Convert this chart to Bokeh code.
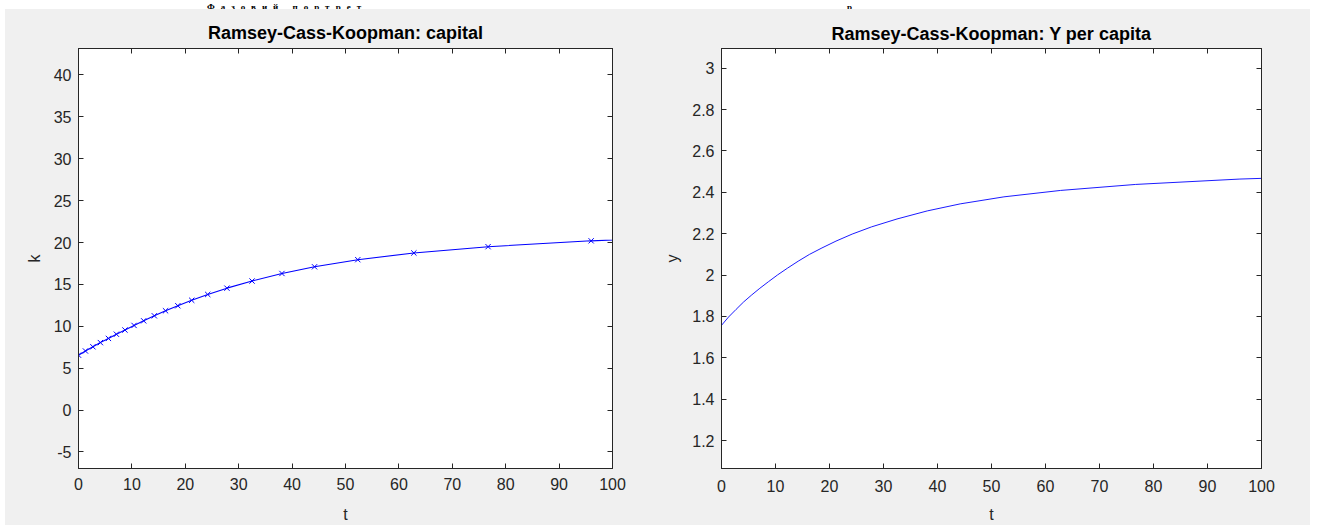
from bokeh.plotting import figure
from bokeh.layouts import column, row
from bokeh.models import LinearAxis, FixedTicker, CustomJSTickFormatter, Range1d, Spacer, ColumnDataSource, Div
from bokeh.embed import file_html
from bokeh.resources import INLINE

# ---- data ----
t = [0, 1.3, 2.7, 4.1, 5.6, 7.1, 8.7, 10.4, 12.2, 14.2, 16.3, 18.6, 21.2, 24.2,
     27.8, 32.5, 38.1, 44.2, 52.3, 62.8, 76.7, 96.0, 118.0]
k = [6.55, 7.05, 7.55, 8.05, 8.55, 9.05, 9.55, 10.1, 10.65, 11.25, 11.85, 12.45,
     13.1, 13.8, 14.55, 15.4, 16.3, 17.1, 17.95, 18.75, 19.5, 20.2, 20.7]
y = [1.757, 1.797, 1.834, 1.870, 1.904, 1.936, 1.968, 2.001, 2.033, 2.067, 2.100,
     2.131, 2.164, 2.198, 2.233, 2.271, 2.310, 2.344, 2.378, 2.409, 2.438, 2.464, 2.482]

t_ticks = [0, 10, 20, 30, 40, 50, 60, 70, 80, 90, 100]
k_ticks = [-5, 0, 5, 10, 15, 20, 25, 30, 35, 40]
y_ticks = [1.2, 1.4, 1.6, 1.8, 2.0, 2.2, 2.4, 2.6, 2.8, 3.0]

title_left = "Ramsey-Cass-Koopman: capital"
title_right = "Ramsey-Cass-Koopman: Y per capita"
x_label = "t"
heading_texts = ["Фазовий портрет", "р"]

FONT = "Liberation Sans"
AX = "#262626"
BG = "#f0f0f0"
BLUE = "#0000ff"

fmt = CustomJSTickFormatter(code="return Number(tick.toFixed(2)).toString();")
blank = CustomJSTickFormatter(code="return '';")


def style_axis(ax, ticks, show_labels, label_standoff=7, title_standoff=10):
    ax.ticker = FixedTicker(ticks=ticks)
    ax.axis_line_color = AX
    ax.axis_line_width = 1
    ax.major_tick_line_color = AX
    ax.major_tick_in = 5
    ax.major_tick_out = 0
    ax.minor_tick_line_color = None
    ax.major_label_text_font = FONT
    ax.major_label_text_font_size = "16px"
    ax.major_label_text_color = AX
    ax.axis_label_text_font = FONT
    ax.axis_label_text_font_size = "16px"
    ax.axis_label_text_font_style = "normal"
    ax.axis_label_text_color = AX
    if show_labels:
        ax.formatter = fmt
        ax.major_label_standoff = label_standoff
        ax.axis_label_standoff = title_standoff
    else:
        ax.formatter = blank
        ax.major_label_standoff = 0


def make_fig(w, h, yr, ticks_y, ylabel, title, bl, br, bt, bb, tstand, x_ls, x_ts):
    p = figure(width=w, height=h, x_range=Range1d(0, 100), y_range=Range1d(*yr),
               output_backend="svg", toolbar_location=None,
               min_border_left=bl, min_border_right=br, min_border_top=bt, min_border_bottom=bb,
               background_fill_color="white", border_fill_color=BG,
               outline_line_color=AX, outline_line_width=1)
    p.grid.visible = False
    p.title.text = title
    p.title.text_font = FONT
    p.title.text_font_size = "18px"
    p.title.text_font_style = "bold"
    p.title.text_color = "#000000"
    p.title.align = "center"
    p.title.standoff = tstand
    style_axis(p.xaxis[0], t_ticks, True, x_ls, x_ts)
    style_axis(p.yaxis[0], ticks_y, True, 7, 8)
    p.xaxis[0].axis_label = x_label
    p.yaxis[0].axis_label = ylabel
    top = LinearAxis()
    style_axis(top, t_ticks, False)
    p.add_layout(top, "above")
    right = LinearAxis()
    style_axis(right, ticks_y, False)
    p.add_layout(right, "right")
    return p


src = ColumnDataSource(dict(t=t, k=k, y=y))

f1 = make_fig(650, 516, (-6.98, 43.16), k_ticks, "k", title_left, 73, 43, 38, 56, 11, 9, 13)
f1.line("t", "k", source=src, line_color=BLUE, line_width=1.1)
f1.scatter("t", "k", source=src, marker="x", size=7.5, line_color=BLUE, line_width=1)

f2 = make_fig(655, 516, (1.065, 3.095), y_ticks, "y", title_right, 66, 49, 39, 51, 10, 11, 11)
f2.line("t", "y", source=src, line_color=BLUE, line_width=0.9)

# heading of the document page above the figure, kept inside the thin top strip
head_html = (
    '<div style="width:1317px;height:9px;overflow:hidden;background:#ffffff;color:#000;'
    'font-family:Liberation Serif;font-weight:bold;font-size:9px;line-height:9px;'
    'white-space:nowrap;letter-spacing:6px;">'
    '<div style="padding-left:207px;">'
    f'{heading_texts[0]}'
    f'<span style="margin-left:480px;">{heading_texts[1]}</span>'
    '</div></div>'
)
head = Div(text=head_html, width=1317, height=9, margin=0, styles={"overflow": "hidden"})

plots = row(f1, f2, spacing=0)
plots.styles = {"background-color": BG}
layout = column(head, row(Spacer(width=5, height=516), plots, spacing=0), spacing=0)

open("out.html", "w").write(file_html(layout, INLINE))
